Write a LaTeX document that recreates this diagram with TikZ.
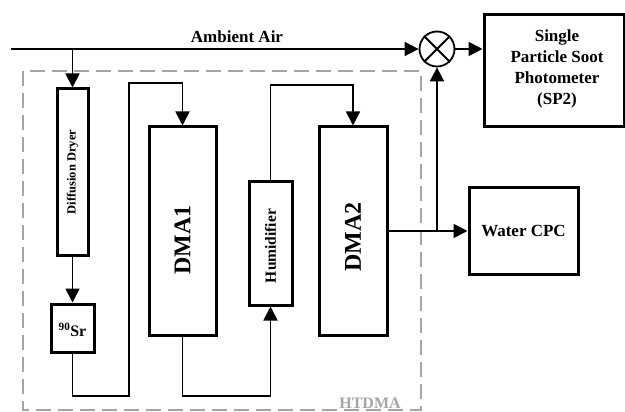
\documentclass[tikz,border=0pt]{standalone}
\usepackage{fontspec}
\setmainfont{Liberation Serif}
\usepackage{xcolor}
\usetikzlibrary{arrows.meta,calc,positioning}
\definecolor{dashgray}{RGB}{165,165,165}
\tikzset{
  unit/.style={draw, line width=3pt, rectangle, inner sep=0pt},
  flow/.style={line width=1.8pt, -{Triangle[length=14pt,width=14pt]}},
  txt/.style={font=\bfseries\fontsize{#1}{#1}\selectfont, inner sep=0pt},
  every picture/.style={line cap=butt, line join=miter}
}
\begin{document}
\begin{tikzpicture}[x=1pt,y=-1pt]
  \useasboundingbox (0,0) rectangle (625,412);

  % HTDMA frame
  \draw[dashgray, line width=1.4pt, dash pattern=on 15pt off 7pt] (23,71) rectangle (421,410);
  \node[txt=16, text=dashgray] (htdma) at (370,403) {HTDMA};

  % units
  \node[unit, minimum width=31, minimum height=166] (dryer) at (72.5,172) {};
  \node[unit, minimum width=43, minimum height=48] (sr) at (72.5,328) {};
  \node[unit, minimum width=67, minimum height=208] (dma1) at (182.5,231) {};
  \node[unit, minimum width=43, minimum height=123] (hum) at (270.5,243.5) {};
  \node[unit, minimum width=68, minimum height=208] (dma2) at (353,231) {};
  \node[unit, minimum width=109, minimum height=86] (cpc) at (523.5,231) {};
  \node[unit, minimum width=140, minimum height=112] (sp2) at (554,71) {};
  \node[draw, circle, line width=1.8pt, minimum size=35, inner sep=0pt] (mix) at (437,49) {};
  \draw[line width=1.8pt] (mix.north east) -- (mix.south west) (mix.north west) -- (mix.south east);

  % labels
  \node[txt=12.5, rotate=90] (dryer-t) at (dryer) {Diffusion Dryer};
  \node[txt=16] (sr-t) at (72.5,330) {\textsuperscript{90}Sr};
  \node[txt=24, rotate=90] (dma1-t) at (182.5,240) {DMA1};
  \node[txt=15.5, rotate=90] (hum-t) at (270.5,246) {Humidifier};
  \node[txt=24, rotate=90] (dma2-t) at (353,237) {DMA2};
  \node[txt=17] (cpc-t) at (cpc) {Water CPC};
  \node[txt=17, align=center, font=\bfseries\fontsize{17}{21}\selectfont] (sp2-t) at (557,69) {Single\\Particle Soot\\Photometer\\(SP2)};
  \node[txt=17] (air-t) at (237,37) {Ambient Air};

  % flow lines
  \coordinate (inlet) at (11,49);
  \coordinate (tap) at (dryer.north |- inlet);
  \coordinate (bot) at (0,396);
  \coordinate (up1) at (129,83);
  \coordinate (top2) at (0,85);
  \coordinate (split) at (mix.south |- dma2.east);

  \draw[flow] (inlet) -- (mix.west);
  \draw[flow] (tap) -- (dryer.north);
  \draw[flow] (mix.east) -- (mix.east -| sp2.west);
  \draw[flow] (dryer.south) -- (sr.north);
  \draw[flow] (sr.south) |- (up1 |- bot) -- (up1) -| (dma1.north);
  \draw[flow] (dma1.south) -- (dma1.south |- bot) -| (hum.south);
  \draw[flow] (hum.north) -- (hum.north |- top2) -| (dma2.north);
  \draw[flow] (dma2.east) -- (cpc.west);
  \draw[flow] (split) -- (mix.south);
\end{tikzpicture}
\end{document}
